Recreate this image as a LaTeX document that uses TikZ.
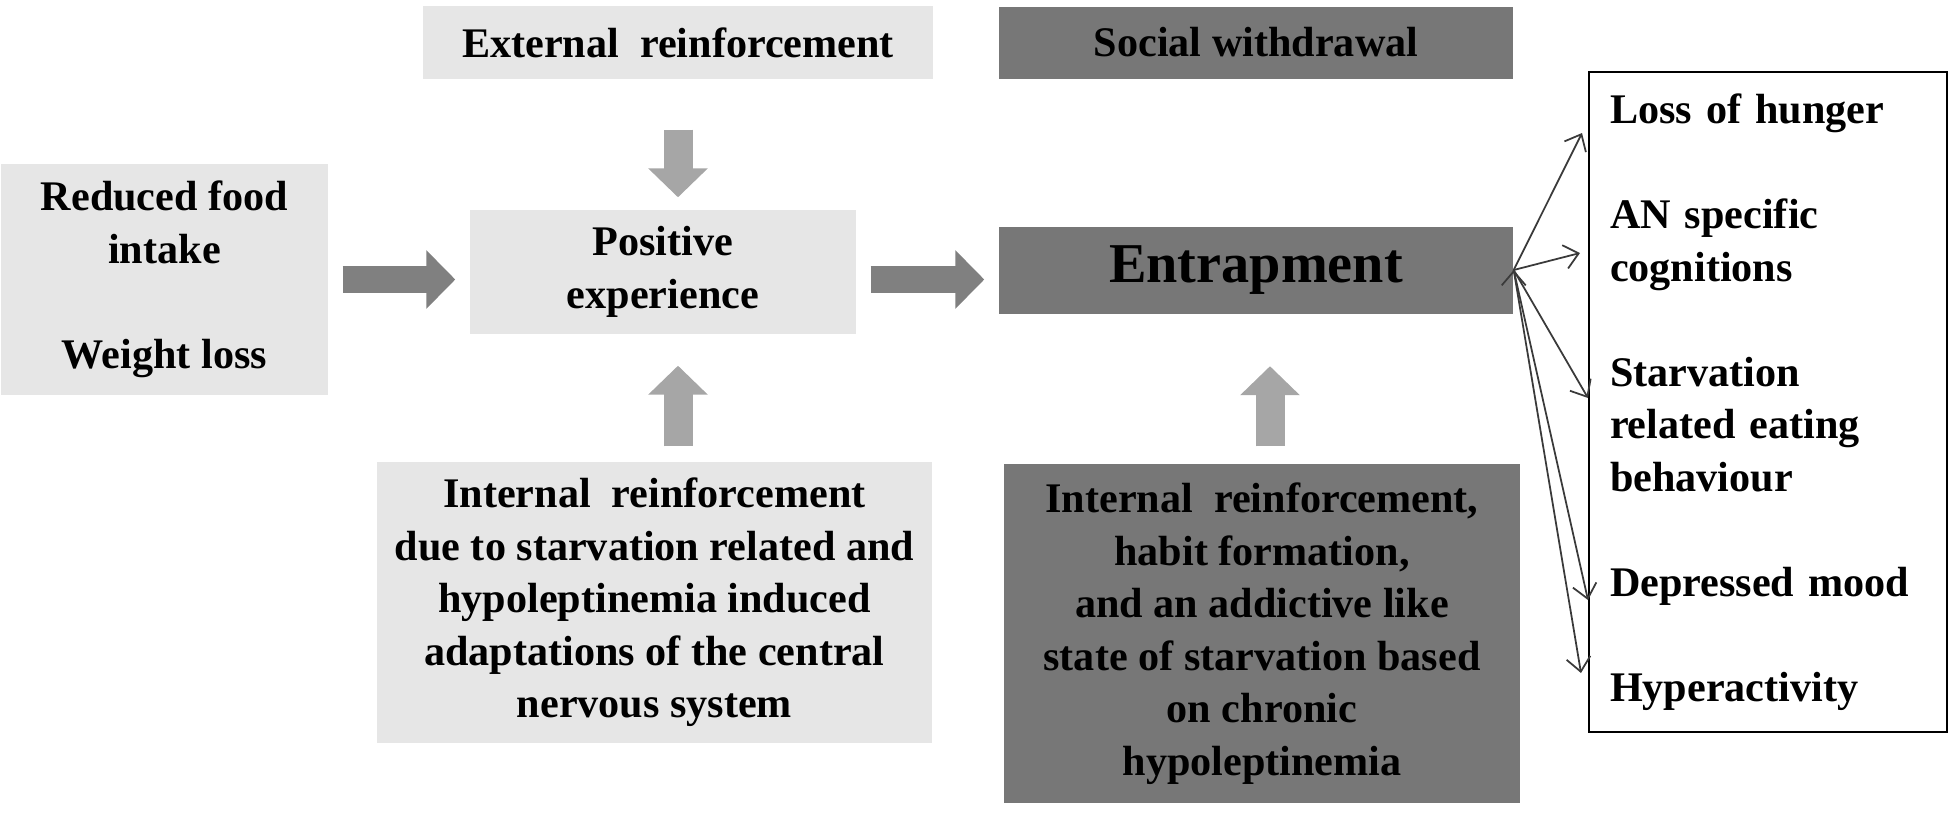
\documentclass[tikz,border=0pt]{standalone}
\usepackage{fontspec}
\setmainfont{Liberation Serif}
\usepackage{tikz}
\usetikzlibrary{positioning,arrows.meta}
\definecolor{boxlight}{HTML}{E6E6E6}
\definecolor{boxdark}{HTML}{777777}
\definecolor{arrowdark}{HTML}{808080}
\definecolor{arrowlight}{HTML}{A6A6A6}
\definecolor{fanline}{HTML}{3A3A3A}

\begin{document}
\begin{tikzpicture}[on grid,
  txt/.style={font=\fontsize{12pt}{14.94pt}\selectfont\bfseries, align=center, inner sep=0pt},
  light/.style={txt, fill=boxlight},
  dark/.style={txt, fill=boxdark},
  flow/.style={draw=arrowdark, line width=0.27cm, -{Triangle[length=0.29cm,width=0.57cm]}, shorten <=0.14cm, shorten >=0.14cm},
  push/.style={draw=arrowlight, line width=0.29cm, -{Triangle[length=0.29cm,width=0.58cm]}},
  fan/.style={draw=fanline, line width=0.5pt, -{Straight Barb[length=0.14cm,width=0.24cm]}}]
\useasboundingbox (0,0) rectangle (19.5,-8.16);

\node[light, minimum width=5.10cm, minimum height=0.73cm]		(b_ext)		at (6.78,-0.425)				{External~ reinforcement};
\node[dark, minimum width=5.14cm, minimum height=0.72cm]		(b_soc)		[right=5.78cm of b_ext]			{Social withdrawal};
\node[dark, minimum width=5.14cm, minimum height=0.87cm, font=\fontsize{16pt}{19pt}\selectfont\bfseries]
																(b_ent)		[below=2.275cm of b_soc]		{Entrapment};
\node[light, minimum width=3.27cm, minimum height=2.31cm]		(b_food)	at (1.645,-2.795)				{Reduced food\\intake\\[14.94pt]Weight loss};
\node[light, minimum width=3.86cm, minimum height=1.24cm]		(b_pos)		at (6.63,-2.72)					{Positive\\experience};
\node[light, minimum width=5.55cm, minimum height=2.81cm]		(b_intA)	at (6.545,-6.025)				{Internal~ reinforcement\\due to starvation related and\\hypoleptinemia induced\\adaptations of the central\\nervous system};
\node[dark, minimum width=5.16cm, minimum height=3.39cm]		(b_intB)	at (12.62,-6.335)				{Internal~ reinforcement,\\habit formation,\\and an addictive like\\state of starvation based\\on chronic\\hypoleptinemia};
\node[txt, draw, line width=0.6pt, align=left, text width=3.16cm, inner xsep=0.21cm, minimum width=3.58cm, minimum height=6.60cm]
																(b_out)		at (17.68,-4.02)				{Loss of hunger\\[14.94pt]AN specific\\cognitions\\[14.94pt]Starvation\\related eating\\behaviour\\[14.94pt]Depressed mood\\[14.94pt]Hyperactivity};

\coordinate (t_1) at (15.82,-1.33);
\coordinate (t_2) at (15.80,-2.53);
\coordinate (t_3) at (15.88,-3.98);
\coordinate (t_4) at (15.88,-6.00);
\coordinate (t_5) at (15.81,-6.73);

% block arrows
\draw[flow] (b_food.east) -- (b_food.east -| b_pos.west);
\draw[flow] (b_pos.east |- b_food.east) -- (b_food.east -| b_ent.west);
\draw[push, shorten <=0.50cm, shorten >=0.12cm] (b_ext.south) -- (b_ext.south |- b_pos.north);
\draw[push, shorten <=0.15cm, shorten >=0.31cm] (b_ext.south |- b_intA.north) -- (b_ext.south |- b_pos.south);
\draw[push, shorten <=0.17cm, shorten >=0.52cm] ([xshift=0.08cm]b_intB.north) -- ([xshift=0.08cm]b_intB.north |- b_ent.south);

% consequences
\path[fan]
(b_ent.east)	edge	(t_1)
				edge	(t_2)
				edge	(t_3)
				edge	(t_4)
				edge	(t_5)
;
\end{tikzpicture}
\end{document}
